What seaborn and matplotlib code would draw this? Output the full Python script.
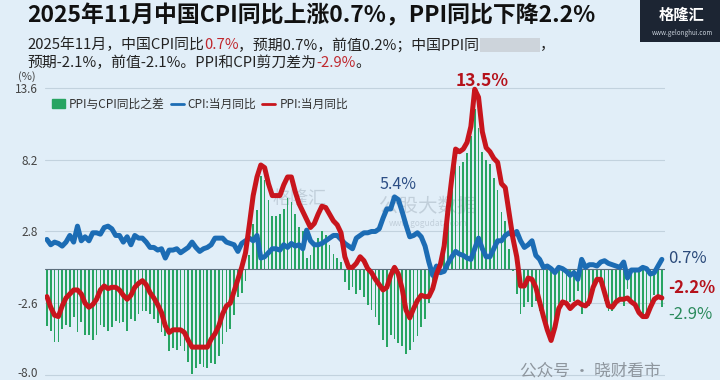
import numpy as np
import pandas as pd
import seaborn as sns
import matplotlib.pyplot as plt
import matplotlib.transforms as mtransforms
from matplotlib.patches import Patch, Rectangle
from matplotlib.lines import Line2D

# monthly data, Jun 2012 - Nov 2025 (year-on-year, %)
start_month = '2012-06'
cpi = [2.2, 1.8, 2.0, 1.9, 1.7, 2.0, 2.5,
       2.0, 3.2, 2.1, 2.4, 2.1, 2.7, 2.7, 2.6, 3.1, 3.2, 3.0, 2.5,
       2.5, 2.0, 2.4, 1.8, 2.5, 2.3, 2.3, 2.0, 1.6, 1.6, 1.4, 1.5,
       0.8, 1.4, 1.4, 1.5, 1.2, 1.4, 1.6, 2.0, 1.6, 1.3, 1.5, 1.6,
       1.8, 2.3, 2.3, 2.3, 2.0, 1.9, 1.8, 1.3, 1.9, 2.1, 2.3, 2.1,
       2.5, 0.8, 0.9, 1.2, 1.5, 1.5, 1.4, 1.8, 1.6, 1.9, 1.7, 1.8,
       1.5, 2.9, 2.1, 1.8, 1.8, 1.9, 2.1, 2.3, 2.5, 2.5, 2.2, 1.9,
       1.7, 1.5, 2.3, 2.5, 2.7, 2.7, 2.8, 2.8, 3.0, 3.8, 4.5, 4.5,
       5.4, 5.2, 4.3, 3.3, 2.4, 2.5, 2.7, 2.4, 1.7, 0.5, -0.5, 0.2,
       -0.3, -0.2, 0.4, 0.9, 1.3, 1.1, 1.0, 0.8, 0.7, 1.5, 2.3, 1.5,
       0.9, 0.9, 1.5, 2.1, 2.1, 2.5, 2.7, 2.5, 2.8, 2.1, 1.6, 1.8,
       2.1, 1.0, 0.7, 0.1, 0.2, 0.0, -0.3, 0.1, 0.0, -0.2, -0.5, -0.3,
       -0.8, 0.7, 0.1, 0.3, 0.3, 0.2, 0.5, 0.6, 0.4, 0.3, 0.2, 0.1,
       0.5, -0.7, -0.1, -0.1, -0.1, 0.1, 0.0, -0.4, -0.3, 0.2, 0.7]
ppi = [-2.1, -2.9, -3.5, -3.6, -2.8, -2.2, -1.9,
       -1.6, -1.6, -1.9, -2.6, -2.9, -2.7, -2.3, -1.6, -1.3, -1.5, -1.4, -1.4,
       -1.6, -2.0, -2.3, -2.0, -1.4, -1.1, -0.9, -1.2, -1.8, -2.2, -2.7, -3.3,
       -4.3, -4.8, -4.6, -4.6, -4.6, -4.8, -5.4, -5.9, -5.9, -5.9, -5.9, -5.9,
       -5.3, -4.9, -4.3, -3.4, -2.8, -2.6, -1.7, -0.8, 0.1, 1.2, 3.3, 5.5,
       6.9, 7.8, 7.6, 6.4, 5.5, 5.5, 5.5, 6.3, 6.9, 6.9, 5.8, 4.9,
       4.3, 3.7, 3.1, 3.4, 4.1, 4.7, 4.6, 4.1, 3.6, 3.3, 2.7, 0.9,
       0.1, 0.1, 0.4, 0.9, 0.6, 0.0, -0.3, -0.8, -1.2, -1.6, -1.4, -0.5,
       0.1, -0.4, -1.5, -3.1, -3.7, -3.0, -2.4, -2.0, -2.1, -2.1, -1.5, -0.4,
       0.3, 1.7, 4.4, 6.8, 9.0, 8.8, 9.0, 9.5, 10.7, 13.5, 12.9, 10.3,
       9.1, 8.8, 8.3, 8.0, 6.4, 6.1, 4.2, 2.3, 0.9, -1.3, -1.3, -0.7,
       -0.8, -1.4, -2.5, -3.6, -4.6, -5.4, -4.4, -3.0, -2.5, -2.6, -3.0, -2.7,
       -2.5, -2.7, -2.8, -2.5, -1.4, -0.8, -0.8, -1.8, -2.8, -2.9, -2.5, -2.3,
       -2.3, -2.2, -2.5, -2.7, -3.3, -3.6, -3.6, -2.9, -2.3, -2.1, -2.2]
yticks = [-8.0, -2.6, 2.8, 8.2, 13.6]

months = pd.date_range(start_month, periods=len(cpi), freq='MS')
df = pd.DataFrame({'month': months, 'idx': np.arange(len(cpi)), 'CPI': cpi, 'PPI': ppi})
df['diff'] = df['PPI'] - df['CPI']   # PPI与CPI同比之差

sns.set_style('white')
plt.rcParams['font.family'] = ['Noto Sans CJK SC', 'DejaVu Sans']

BG = '#e1eef8'
GREEN = '#27a462'
BLUE = '#1c6cb4'
RED = '#c8151d'

fig = plt.figure(figsize=(7.2, 3.8), dpi=100, facecolor=BG)
ax = fig.add_axes([0.0625, 0.0026, 0.861, 0.787])
ax.set_facecolor('none')

sns.barplot(data=df, x='idx', y='diff', native_scale=True, color=GREEN, saturation=1,
            width=0.45, linewidth=0, ax=ax, zorder=1)
ax.axhline(0, color='#5c6e7c', lw=0.8, zorder=2)
sns.lineplot(data=df, x='idx', y='CPI', color=BLUE, lw=3.6, ax=ax, zorder=3)
sns.lineplot(data=df, x='idx', y='PPI', color=RED, lw=3.6, ax=ax, zorder=4)

ax.set_xlim(-0.5, 161.8)
ax.set_ylim(-8.3, 14.2)
ax.set_xticks([])
ax.set_yticks(yticks)
ax.set_yticklabels([f'{v:.1f}' for v in yticks], fontsize=8.5, color='#444444')
ax.tick_params(axis='y', length=0, pad=5)
# lowest label sits right at the bottom edge, lift it a little
low = ax.get_yticklabels()[0]
low.set_transform(low.get_transform() + mtransforms.ScaledTranslation(0, 3 / 100, fig.dpi_scale_trans))
ax.yaxis.grid(True, color='#c2d2de', lw=0.8)
ax.set_axisbelow(True)
ax.set_xlabel('')
ax.set_ylabel('')
sns.despine(ax=ax, left=True, bottom=True)
fig.text(18 / 720, 1 - 77 / 380, '(%)', fontsize=8, color='#444444', va='center')

# legend
handles = [Patch(color=GREEN), Line2D([], [], color=BLUE, lw=2), Line2D([], [], color=RED, lw=2)]
labels = ['PPI与CPI同比之差', 'CPI:当月同比', 'PPI:当月同比']
ax.legend(handles, labels, loc='upper left', bbox_to_anchor=(46 / 720, 1 - 92 / 380),
          bbox_transform=fig.transFigure, ncol=3, frameon=False, fontsize=8.5,
          handlelength=1.1, handleheight=0.8, handletextpad=0.35, columnspacing=0.5,
          borderpad=0, labelcolor='#333333')

# labels on the lines
ax.text(114, 14.1, '13.5%', color='#b5121b', fontsize=12.5, fontweight='bold', ha='center', va='center')
ax.text(92, 6.3, '5.4%', color='#2d4f86', fontsize=11.5, ha='center', va='center')
ax.text(162.6, 0.75, '0.7%', color='#2b4a7a', fontsize=12, ha='left', va='center')
ax.text(162.6, -1.45, '-2.2%', color='#b5121b', fontsize=12, fontweight='bold', ha='left', va='center')
ax.text(162.6, -3.45, '-2.9%', color='#2a8a5c', fontsize=12, ha='left', va='center')

# title and subtitle
fig.text(27 / 720, 1 - 16 / 380, '2025年11月中国CPI同比上涨0.7%，PPI同比下降2.2%',
         fontsize=16.5, fontweight='bold', color='#111111', va='center')

renderer = fig.canvas.get_renderer()


def seg_text(x, y, parts, size):
    for s, c in parts:
        if s is None:
            fig.add_artist(Rectangle((x, y - 7 / 380), c / 720, 14 / 380, transform=fig.transFigure,
                                     color='#c9ced4', alpha=0.8, lw=0))
            x += c / 720
            continue
        t = fig.text(x, y, s, color=c, fontsize=size, va='center')
        x += t.get_window_extent(renderer=renderer).width / fig.bbox.width


DARK = '#222222'
PINK = '#c0272d'
seg_text(27 / 720, 1 - 45 / 380, [('2025年11月，中国CPI同比', DARK), ('0.7%', PINK),
                                  ('，预期0.7%，前值0.2%；中国PPI同', DARK), (None, 60), ('，', DARK)], 10.7)
seg_text(27 / 720, 1 - 63 / 380, [('预期-2.1%，前值-2.1%。PPI和CPI剪刀差为', DARK), ('-2.9%', PINK),
                                  ('。', DARK)], 10.7)

# logo
fig.add_artist(Rectangle((640 / 720, 1 - 42 / 380), 80 / 720, 42 / 380, transform=fig.transFigure,
                         color='#1c2533', lw=0))
fig.text(682 / 720, 1 - 15 / 380, '格隆汇', color='white', fontsize=11, fontweight='bold',
         ha='center', va='center')
fig.text(682 / 720, 1 - 33 / 380, 'www.gelonghui.com', color='#c8d0da', fontsize=4.5,
         ha='center', va='center')

# watermarks
fig.text(300 / 720, 1 - 199 / 380, '格隆汇', color='#b4c2ce', fontsize=13, alpha=0.7,
         ha='center', va='center', zorder=-1)
fig.text(428 / 720, 1 - 207 / 380, '公股大数据', color='#b4c2ce', fontsize=14, alpha=0.7,
         ha='center', va='center', zorder=-1)
fig.text(428 / 720, 1 - 223 / 380, 'www.gogudata.com', color='#b4c2ce', fontsize=6, alpha=0.7,
         ha='center', va='center', zorder=-1)
fig.text(520 / 720, 1 - 371 / 380, '公众号 · 晓财看市', color='#8e969e', fontsize=12,
         ha='left', va='center')

fig.savefig('out.png', dpi=100, facecolor=BG)
